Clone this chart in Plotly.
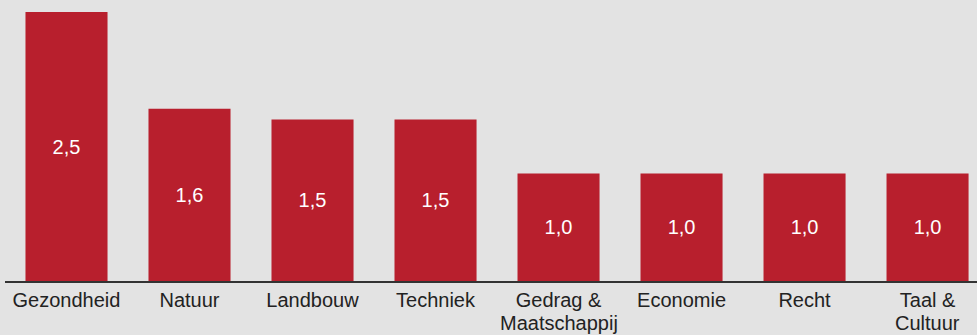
import plotly.graph_objects as go

categories = ["Gezondheid", "Natuur", "Landbouw", "Techniek",
              "Gedrag &<br>Maatschappij", "Economie", "Recht", "Taal &<br>Cultuur"]
values = [2.5, 1.6, 1.5, 1.5, 1.0, 1.0, 1.0, 1.0]
value_labels = ["2,5", "1,6", "1,5", "1,5", "1,0", "1,0", "1,0", "1,0"]

BG = "#e3e3e3"
BAR = "#b81f2d"
FONT = "Liberation Sans, Arial, sans-serif"

first_lines = [c.split("<br>")[0] for c in categories]
x_idx = list(range(len(categories)))

fig = go.Figure(go.Bar(
    x=x_idx, y=values, marker_color=BAR, marker_line_width=0,
    text=value_labels, textposition="inside", insidetextanchor="middle",
    textfont=dict(color="white", size=20, family=FONT),
    hoverinfo="skip",
))

annotations = []
for i, c in enumerate(categories):
    parts = c.split("<br>")
    if len(parts) > 1:
        annotations.append(dict(x=i, xref="x", y=-0.155, yref="paper",
                                text=parts[1], showarrow=False,
                                xanchor="center", yanchor="middle",
                                font=dict(size=20, color="#222222", family=FONT)))

fig.update_layout(
    width=977, height=335,
    margin=dict(l=5, r=0, t=12, b=54),
    paper_bgcolor=BG, plot_bgcolor=BG,
    bargap=0.333, showlegend=False,
    font=dict(family=FONT, size=20, color="#222222"),
    annotations=annotations,
    xaxis=dict(range=[-0.5, 7.402], tickmode="array", tickvals=x_idx,
               ticktext=first_lines, showgrid=False, zeroline=False,
               showline=True, linecolor="#333333", linewidth=1.5,
               ticks="", tickfont=dict(size=20, color="#222222")),
    yaxis=dict(range=[0, 2.5], visible=False, showgrid=False),
)

fig.write_html("out.html", config={"displayModeBar": False},
               post_script="document.body.style.margin='0';document.body.style.background='%s';" % BG)
